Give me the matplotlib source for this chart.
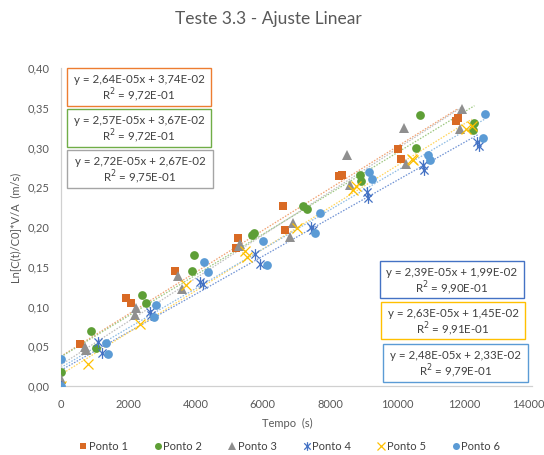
import matplotlib
matplotlib.use("Agg")
import matplotlib.pyplot as plt
from matplotlib.path import Path
import matplotlib.transforms as mtransforms
import numpy as np

plt.rcParams['font.family'] = ['Lato', 'DejaVu Sans']

series_names = ["Ponto 1", "Ponto 2", "Ponto 3", "Ponto 4", "Ponto 5", "Ponto 6"]

p1_x = [0, 565, 1930, 2070, 3400, 5190, 5250, 6610, 6670, 8250, 8350, 10030, 10100, 11730, 11790]
p1_y = [0.000, 0.053, 0.111, 0.104, 0.145, 0.173, 0.186, 0.227, 0.196, 0.264, 0.266, 0.298, 0.285, 0.333, 0.337]

p2_x = [0, 900, 1030, 2400, 2515, 3890, 3950, 5690, 5750, 7200, 7320, 8880, 8930, 10540, 10670, 12240, 12290]
p2_y = [0.017, 0.069, 0.048, 0.115, 0.104, 0.1445, 0.165, 0.190, 0.193, 0.227, 0.223, 0.266, 0.258, 0.299, 0.341, 0.322, 0.331]

p3_x = [0, 0, 700, 740, 2200, 2230, 3480, 3610, 5300, 5330, 6800, 6900, 8490, 8600, 10190, 10260, 11860, 11930]
p3_y = [0.009, 0.002, 0.049, 0.045, 0.089, 0.098, 0.138, 0.122, 0.176, 0.179, 0.187, 0.205, 0.291, 0.253, 0.325, 0.279, 0.323, 0.348]

p4_x = [0, 1110, 1210, 2640, 2690, 4130, 4230, 5760, 5910, 7430, 7480, 9100, 9130, 10750, 10800, 12380, 12420]
p4_y = [0.000, 0.055, 0.041, 0.093, 0.089, 0.131, 0.128, 0.166, 0.154, 0.200, 0.196, 0.244, 0.236, 0.278, 0.272, 0.307, 0.302]

p5_x = [0, 810, 2350, 3730, 5460, 5530, 7000, 8680, 8780, 10420, 10470, 12050, 12210]
p5_y = [0.000, 0.028, 0.078, 0.127, 0.170, 0.162, 0.199, 0.246, 0.252, 0.286, 0.284, 0.323, 0.327]

p6_x = [0, 0, 1330, 1390, 2760, 2820, 4260, 4380, 5990, 6110, 7560, 7690, 9160, 9230, 10910, 10980, 12540, 12590]
p6_y = [0.034, 0.000, 0.054, 0.040, 0.087, 0.102, 0.156, 0.143, 0.182, 0.152, 0.193, 0.217, 0.269, 0.261, 0.290, 0.284, 0.312, 0.342]

slopes = [2.64e-05, 2.57e-05, 2.72e-05, 2.39e-05, 2.63e-05, 2.48e-05]
intercepts = [3.74e-02, 3.67e-02, 2.67e-02, 1.99e-02, 1.45e-02, 2.33e-02]
r2_values = [9.72e-01, 9.72e-01, 9.75e-01, 9.90e-01, 9.91e-01, 9.79e-01]

x_ticks = [0, 2000, 4000, 6000, 8000, 10000, 12000, 14000]
y_ticks = [0.00, 0.05, 0.10, 0.15, 0.20, 0.25, 0.30, 0.35, 0.40]

xs = [p1_x, p2_x, p3_x, p4_x, p5_x, p6_x]
ys = [p1_y, p2_y, p3_y, p4_y, p5_y, p6_y]

marker_colors = ['#D96A24', '#5E9F36', '#8F8F8F', '#4472C4', '#FFC000', '#5B9BD5']
line_colors = ['#F0A070', '#9CC77F', '#BDBDBD', '#6F92D4', '#FFD55A', '#8DBBE3']
box_colors = ['#ED7D31', '#70AD47', '#A5A5A5', '#4472C4', '#FFC000', '#5B9BD5']

# Excel-style asterisk: vertical + two diagonals
ast = Path([(0, -1), (0, 1), (-0.75, -0.75), (0.75, 0.75), (-0.75, 0.75), (0.75, -0.75)],
           [Path.MOVETO, Path.LINETO, Path.MOVETO, Path.LINETO, Path.MOVETO, Path.LINETO])

marker_specs = [
    dict(marker='s', ms=6.0, mfc=marker_colors[0], mec=marker_colors[0], mew=0),
    dict(marker='o', ms=6.3, mfc=marker_colors[1], mec=marker_colors[1], mew=0),
    dict(marker='^', ms=7.3, mfc=marker_colors[2], mec=marker_colors[2], mew=0),
    dict(marker=ast, ms=7.8, mfc='none', mec=marker_colors[3], mew=0.9),
    dict(marker='x', ms=6.8, mfc='none', mec=marker_colors[4], mew=0.9),
    dict(marker='o', ms=6.3, mfc=marker_colors[5], mec=marker_colors[5], mew=0),
]

fig = plt.figure(figsize=(5.44, 4.55), dpi=100)
ax = fig.add_axes([61/544, 1 - 386/455, (532 - 61)/544, (386 - 68)/455])

handles = []
for i in range(6):
    x = np.array(xs[i], dtype=float)
    xl = np.array([x.min(), x.max()])
    ax.plot(xl, slopes[i] * xl + intercepts[i], color=line_colors[i], lw=0.9,
            linestyle=(0, (1.2, 1.2)), zorder=2)
for i in range(6):
    h, = ax.plot(xs[i], ys[i], linestyle='none', zorder=3 + i, label=series_names[i],
                 **marker_specs[i])
    handles.append(h)

ax.set_xlim(0, 14000)
ax.set_ylim(0, 0.40)
ax.set_xticks(x_ticks)
ax.set_yticks(y_ticks)
ax.set_xticklabels([str(v) for v in x_ticks])
ax.set_yticklabels([f"{v:.2f}".replace('.', ',') for v in y_ticks])
ax.tick_params(axis='both', length=0, labelsize=8, colors='#595959', pad=8)
ax.tick_params(axis='x', pad=9)
# keep the last x label inside the canvas
last = ax.get_xticklabels()[-1]
last.set_transform(last.get_transform() + mtransforms.ScaledTranslation(-4/100, 0, fig.dpi_scale_trans))
for s in ['top', 'right']:
    ax.spines[s].set_visible(False)
ax.spines['left'].set_color('#D0D0D0')
ax.spines['bottom'].set_color('#D0D0D0')
ax.spines['left'].set_linewidth(0.9)
ax.spines['bottom'].set_linewidth(0.9)

fig.text(268/544, 1 - 19/455, "Teste 3.3 - Ajuste Linear", ha='center', va='center',
         fontsize=12.5, color='#595959')
fig.text(16/544, 1 - 228/455, "Ln[C(t)/C0]*V/A  (m/s)", rotation=90, ha='center', va='center',
         fontsize=8, color='#595959')
fig.text(287/544, 1 - 423/455, "Tempo  (s)", ha='center', va='center', fontsize=8, color='#595959')

def fmt_e(v):
    s = f"{v:.2E}"
    mant, ex = s.split('E')
    sign = ex[0]
    digits = ex[1:].zfill(2)
    return mant.replace('.', ',') + 'E' + sign + digits

# box pixel geometry (left, top, right, bottom)
box_px = [(67, 68, 211, 106), (67, 109, 211, 147), (67, 150, 213, 188),
          (380, 261, 524, 298), (381, 302, 525, 339), (383, 344, 528, 382)]
for i in range(6):
    l, t, r, b = box_px[i]
    rect = plt.Rectangle((l/544, 1 - b/455), (r - l)/544, (b - t)/455, transform=fig.transFigure,
                         facecolor='white', edgecolor=box_colors[i], lw=1.0, zorder=20)
    fig.patches.append(rect)
    cx = (l + r) / 2 / 544
    txt1 = f"y = {fmt_e(slopes[i])}x + {fmt_e(intercepts[i])}"
    txt2 = f"R$^2$ = {fmt_e(r2_values[i])}"
    fig.text(cx, 1 - (t + 11.5)/455, txt1, ha='center', va='center', fontsize=8.3,
             color='#404040', zorder=21)
    fig.text(cx, 1 - (t + 27.5)/455, txt2, ha='center', va='center', fontsize=8.3,
             color='#404040', zorder=21)

leg = fig.legend(handles=handles, loc='center', bbox_to_anchor=(290/544, 1 - 446/455),
                 ncol=6, frameon=False, fontsize=8, handlelength=0.6, handletextpad=0.2,
                 columnspacing=2.4, labelcolor='#404040', markerscale=0.8)

fig.savefig("out.png", dpi=100)
